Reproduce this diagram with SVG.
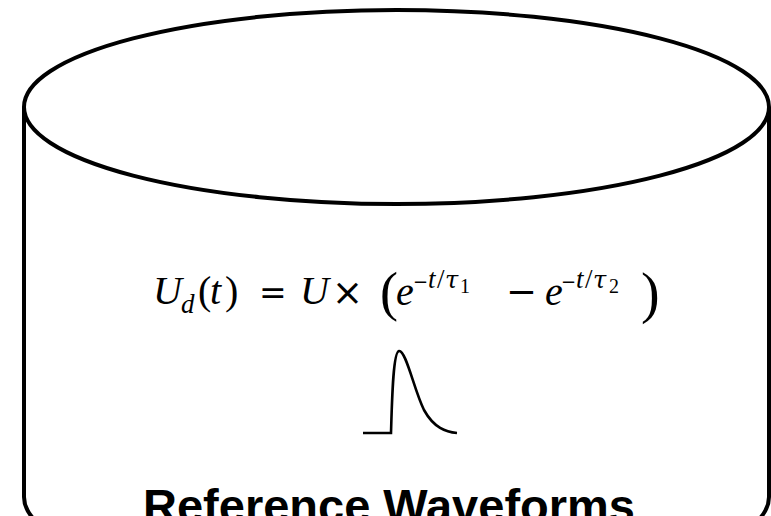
<svg xmlns="http://www.w3.org/2000/svg" width="771" height="516" viewBox="0 0 771 516">
<style>
.ln{fill:none;stroke:#000;stroke-width:4}
.m{font-family:"Liberation Serif","DejaVu Serif",serif;fill:#000;font-size:40px}
.o{font-family:"DejaVu Sans","Liberation Sans",sans-serif;fill:#000}
.g{font-family:"DejaVu Serif","Liberation Serif",serif;font-style:italic;fill:#000;font-size:24px}
.s{font-size:27px}
.ss{font-size:20px}
.i{font-style:italic}
.t{font-family:"Liberation Sans",Arial,sans-serif;font-weight:bold;fill:#000}
</style>
<rect width="771" height="516" fill="#fff"/>
<g id="cylinder">
<path class="ln" d="M24,107 V497 A372.5,97 0 0 0 769,497 V107"/>
<ellipse class="ln" cx="396.5" cy="107" rx="372.5" ry="97" fill="#fff"/>
</g>
<g id="formula">
<text class="m i" x="153" y="304">U</text>
<text class="m i s" x="181" y="313">d</text>
<text class="m" x="198" y="304">(</text>
<text class="m i" x="210" y="304">t</text>
<text class="m" x="225" y="304">)</text>
<text class="o" x="259" y="304" font-size="33">=</text>
<text class="m i" x="300" y="304">U</text>
<text class="o" x="332" y="305" font-size="37">×</text>
<text class="m" x="380" y="310" style="font-size:54px">(</text>
<text class="m i" x="396" y="305">e</text>
<text class="o" x="413" y="288" font-size="18">−</text>
<text class="m s i" x="428" y="288">t</text>
<text class="m s" x="437" y="288">/</text>
<text class="g" x="445" y="288">τ</text>
<text class="m ss" x="460" y="293">1</text>
<text class="o" x="506" y="304" font-size="37">−</text>
<text class="m i" x="545" y="305">e</text>
<text class="o" x="561" y="288" font-size="18">−</text>
<text class="m s i" x="576" y="288">t</text>
<text class="m s" x="585" y="288">/</text>
<text class="g" x="593" y="288">τ</text>
<text class="m ss" x="609" y="293">2</text>
<text class="m" x="641" y="312" style="font-size:56px">)</text>
</g>
<g id="waveform">
<path fill="none" stroke="#000" stroke-width="2.6" d="M363,433 H391 C392,400 393,352 399,351 C406,350 414,390 424,410 C434,428 446,432 457,433"/>
</g>
<g id="label">
<text class="t" font-size="47" x="389" y="522" text-anchor="middle">Reference Waveforms</text>
</g>
</svg>
